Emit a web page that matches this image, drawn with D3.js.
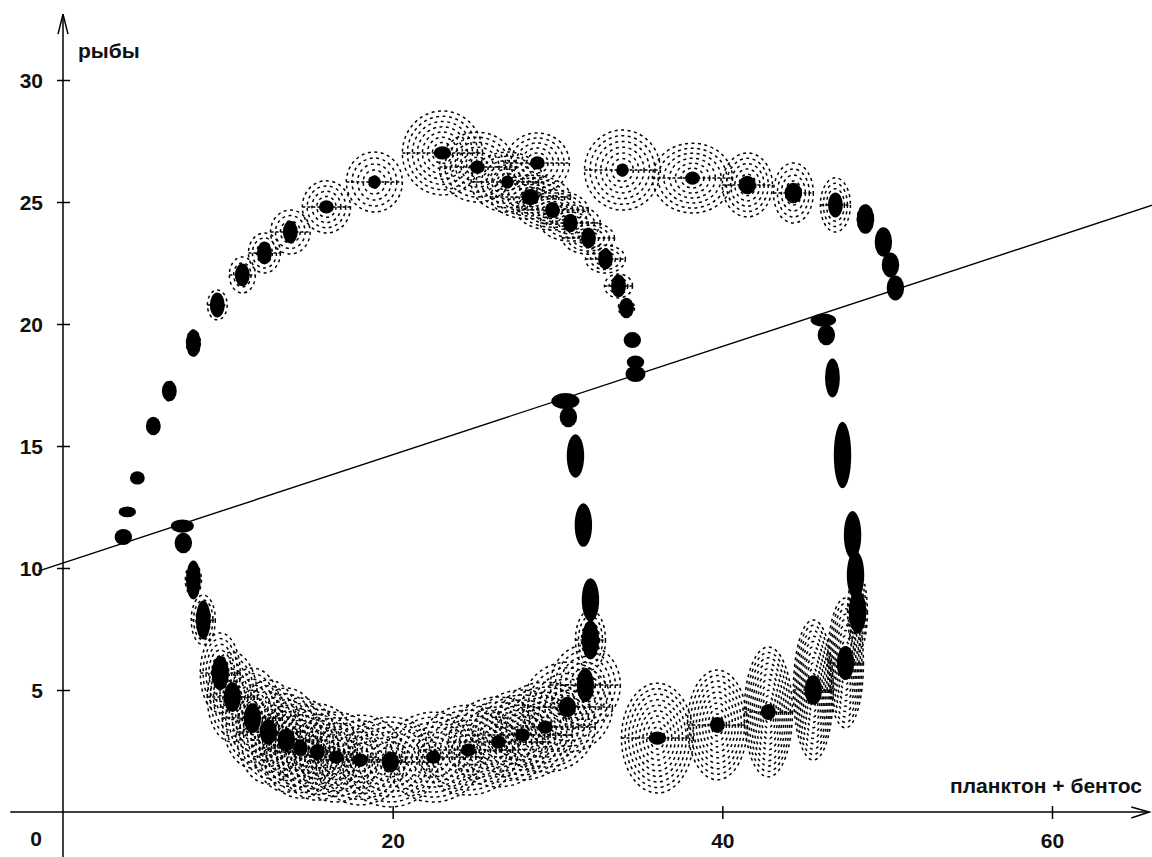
<!DOCTYPE html>
<html>
<head>
<meta charset="utf-8">
<script src="https://cdn.jsdelivr.net/npm/d3@7"></script>
<style>
  body { margin: 0; background: #fff; }
  text { font-family: "Liberation Sans", Arial, sans-serif; font-weight: bold; fill: #111; }
</style>
</head>
<body>
<div id="chart"></div>
<script>
// dati: planctone+bentos (x), pesci (y)
var plankton = [3.66, 3.90, 4.51, 5.48, 6.45, 7.91, 9.36, 10.88, 12.22, 13.79, 15.98, 18.89, 23.02, 25.14, 26.96, 28.78,
  28.36, 29.69, 30.78, 31.88, 32.91, 33.70, 34.18, 34.54, 34.73, 34.73,
  33.94, 38.19, 41.52, 44.31, 46.86, 48.68, 49.77, 50.20, 50.50,
  46.13, 46.31, 46.68, 47.29, 47.90, 48.08, 48.20, 47.47, 45.52, 42.79, 39.70, 36.06,
  30.48, 30.66, 31.09, 31.57, 32.00, 32.00, 31.69, 30.60,
  29.26, 27.87, 26.41, 24.59, 22.47, 19.86, 18.04, 16.58, 15.43, 14.40, 13.55, 12.46, 11.49, 10.27, 9.54, 8.51, 7.91, 7.30, 7.24];
var fish = [11.27, 12.30, 13.69, 15.82, 17.25, 19.22, 20.78, 22.01, 22.91, 23.77, 24.80, 25.82, 27.01, 26.43, 25.82, 26.60,
  25.20, 24.67, 24.14, 23.52, 22.66, 21.56, 20.66, 19.34, 18.44, 17.95,
  26.31, 25.98, 25.70, 25.37, 24.88, 24.30, 23.36, 22.42, 21.48,
  20.16, 19.55, 17.79, 14.63, 11.35, 9.71, 8.20, 6.11, 5.00, 4.10, 3.57, 3.03,
  16.84, 16.19, 14.59, 11.76, 8.69, 7.05, 5.20, 4.30,
  3.48, 3.16, 2.87, 2.54, 2.25, 2.05, 2.13, 2.25, 2.46, 2.62, 2.95, 3.28, 3.85, 4.71, 5.70, 7.87, 9.51, 11.02, 11.72];
// dispersione del nucleo (unita' dei dati)
var coreX = [.36, .36, .30, .30, .30, .30, .30, .30, .30, .30, .30, .24, .36, .30, .24, .30,
  .36, .30, .30, .30, .30, .30, .30, .36, .36, .42,
  .24, .30, .36, .36, .30, .36, .36, .36, .36,
  .55, .36, .30, .36, .36, .36, .36, .36, .36, .30, .30, .36,
  .61, .36, .36, .36, .36, .36, .36, .36,
  .30, .30, .30, .30, .30, .36, .30, .30, .30, .30, .36, .36, .36, .36, .36, .30, .30, .36, .49];
var coreY = [.25, .16, .20, .29, .33, .45, .41, .37, .37, .37, .20, .20, .20, .20, .20, .20,
  .25, .25, .29, .33, .33, .37, .33, .25, .20, .25,
  .20, .20, .29, .33, .41, .49, .49, .41, .41,
  .20, .33, .66, 1.15, .82, .82, .74, .57, .49, .25, .25, .20,
  .25, .33, .74, .74, .74, .66, .57, .33,
  .20, .20, .20, .20, .20, .33, .20, .20, .25, .25, .37, .41, .49, .49, .57, .66, .66, .33, .20];
// errore (alone tratteggiato)
var errX = [0, 0, 0, 0, .36, .42, .60, .79, .97, 1.20, 1.46, 1.70, 2.43, 2.30, 2.20, 1.94,
  2.43, 2.18, 1.82, 1.58, 1.21, .85, .49, 0, 0, 0,
  2.30, 2.43, 1.52, 1.21, .91, .49, .30, 0, 0,
  0, 0, 0, 0, 0, 0, .60, 1.09, 1.21, 1.46, 1.82, 2.18,
  0, 0, 0, 0, .36, .91, 2.12, 2.73,
  3.03, 3.03, 3.03, 3.03, 2.91, 2.91, 2.73, 2.55, 2.43, 2.30, 2.12, 1.94, 1.82, 1.52, 1.21, .73, .49, 0, 0];
var errY = [0, 0, 0, 0, .41, .53, .61, .74, .82, .90, 1.07, 1.23, 1.72, 1.43, 1.23, 1.23,
  .90, .82, .74, .66, .57, .49, .33, 0, 0, 0,
  1.64, 1.43, 1.31, 1.23, 1.11, .57, .33, 0, 0,
  0, 0, 0, 0, 0, 0, 1.64, 2.66, 2.87, 2.66, 2.25, 2.25,
  0, 0, 0, 0, .82, 1.23, 1.64, 1.84,
  1.84, 1.84, 1.84, 1.84, 1.84, 1.84, 1.84, 1.84, 1.97, 2.05, 2.13, 2.13, 2.05, 1.84, 1.64, 1.02, .66, 0, 0];

var yTicks = [5, 10, 15, 20, 25, 30];
var xTicks = [20, 40, 60];
var trendX = [-1.5, 66.5];
var trendY = [9.87, 24.96];

// margini e dimensioni
var margin = {top: 80, right: 100, bottom: 45, left: 63},
  width = 1152 - margin.left - margin.right,
  height = 812 - margin.top;

var svg = d3.select("#chart")
  .append("svg")
    .attr("width", 1152)
    .attr("height", 857)
  .append("g")
    .attr("transform", "translate(" + margin.left + "," + margin.top + ")");

var x = d3.scaleLinear().domain([0, 60]).range([0, 989]);
var y = d3.scaleLinear().domain([0, 30]).range([height, 0]);
var kx = x(1) - x(0), ky = y(0) - y(1);

var pts = plankton.map(function(d, i) {
  return {x: d, y: fish[i], cx: coreX[i], cy: coreY[i], ex: errX[i], ey: errY[i]};
});

// anelli tratteggiati
var rings = [];
pts.forEach(function(p) {
  if (p.ex <= 0) return;
  var rx = p.ex * kx, ry = p.ey * ky;
  var n = Math.max(2, Math.round(Math.max(rx, ry) / 5.5));
  for (var k = 1; k <= n; k++) rings.push({p: p, rx: rx * k / n, ry: ry * k / n});
});

svg.append("g").selectAll("ellipse")
  .data(rings)
  .enter().append("ellipse")
    .attr("cx", function(d) { return x(d.p.x); })
    .attr("cy", function(d) { return y(d.p.y); })
    .attr("rx", function(d) { return d.rx; })
    .attr("ry", function(d) { return d.ry; })
    .style("fill", "none")
    .style("stroke", "#000")
    .style("stroke-width", 1.5)
    .style("stroke-dasharray", "3,3.5");

svg.append("g").selectAll("line")
  .data(pts.filter(function(p) { return p.ex > 0; }))
  .enter().append("line")
    .attr("x1", function(d) { return x(d.x - d.ex); })
    .attr("x2", function(d) { return x(d.x + d.ex); })
    .attr("y1", function(d) { return y(d.y); })
    .attr("y2", function(d) { return y(d.y); })
    .style("stroke", "#000")
    .style("stroke-width", 1.5)
    .style("stroke-dasharray", "3,2");

// nuclei
svg.append("g").selectAll("ellipse")
  .data(pts)
  .enter().append("ellipse")
    .attr("cx", function(d) { return x(d.x); })
    .attr("cy", function(d) { return y(d.y); })
    .attr("rx", function(d) { return d.cx * kx * 1.3 + 1; })
    .attr("ry", function(d) { return d.cy * ky * 1.15 + 1; })
    .style("fill", "#000");

// retta di regressione
svg.append("path")
  .datum(trendX.map(function(d, i) { return [d, trendY[i]]; }))
  .attr("d", d3.line().x(function(d) { return x(d[0]); }).y(function(d) { return y(d[1]); }))
  .style("stroke", "#000")
  .style("stroke-width", 1.4)
  .style("fill", "none");

// assi
var ax = svg.append("g").style("stroke", "#000").style("stroke-width", 1.5);
ax.append("line").attr("x1", x(-3.2)).attr("x2", x(65.9)).attr("y1", y(0)).attr("y2", y(0));
ax.append("line").attr("x1", x(0)).attr("x2", x(0)).attr("y1", y(-2)).attr("y2", y(32.7));
ax.append("path").style("fill", "none")
  .attr("d", "M" + (x(0) - 5) + "," + (y(32.7) + 20) + "L" + x(0) + "," + y(32.7) + "L" + (x(0) + 5) + "," + (y(32.7) + 20));
ax.append("path").style("fill", "none")
  .attr("d", "M" + (x(65.9) - 18) + "," + (y(0) - 5) + "L" + x(65.9) + "," + y(0) + "L" + (x(65.9) - 18) + "," + (y(0) + 6));

var yAxis = svg.append("g")
  .call(d3.axisLeft(y).tickValues(yTicks).tickSize(6).tickPadding(14));
yAxis.select(".domain").remove();
yAxis.selectAll(".tick line").attr("x1", 7).style("stroke-width", 1.5);
yAxis.selectAll(".tick text").style("font-size", "21px").style("font-family", null).attr("dy", "0.36em");

var xAxis = svg.append("g")
  .attr("transform", "translate(0," + height + ")")
  .call(d3.axisBottom(x).tickValues(xTicks).tickSize(7).tickPadding(14));
xAxis.select(".domain").remove();
xAxis.selectAll(".tick line").attr("y1", -6).style("stroke-width", 1.5);
xAxis.selectAll(".tick text").style("font-size", "21px").style("font-family", null);

svg.append("text")
  .attr("x", -21)
  .attr("y", height + 34)
  .attr("text-anchor", "end")
  .style("font-size", "21px")
  .text("0");

svg.append("text")
  .attr("x", 15)
  .attr("y", -22)
  .style("font-size", "21px")
  .text("рыбы");

svg.append("text")
  .attr("x", 1142 - margin.left)
  .attr("y", height - 19)
  .attr("text-anchor", "end")
  .style("font-size", "21px")
  .text("планктон + бентос");
</script>
</body>
</html>
